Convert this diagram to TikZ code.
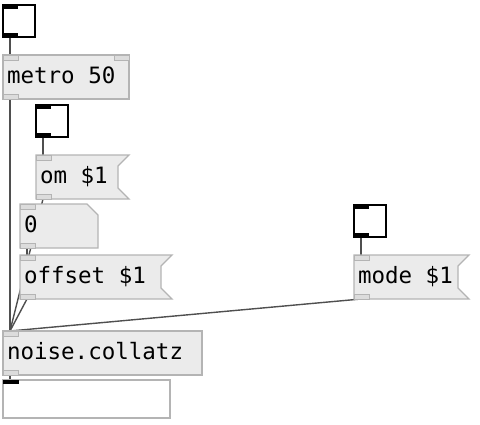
\documentclass[tikz,border=0pt]{standalone}
\usepackage{fontspec}
\newfontfamily\pdmono{DejaVu Sans Mono}
\usetikzlibrary{calc}
\definecolor{boxfill}{HTML}{EBEBEB}
\definecolor{boxline}{HTML}{B4B4B4}
\definecolor{nubfill}{HTML}{DCDCDC}
\definecolor{wire}{HTML}{4F4F4F}
\pgfdeclarelayer{wires}
\pgfdeclarelayer{back}
\pgfsetlayers{wires,back,main}
\begin{document}
\begin{tikzpicture}[x=1pt,y=1pt,inner sep=0pt,outer sep=0pt,
pdtext/.style={rectangle,anchor=north west,inner xsep=4pt,inner ysep=0pt,text height=28pt,text depth=16pt,font=\pdmono\fontsize{22.5pt}{27pt}\selectfont,minimum width=#1},
pdobj/.style={pdtext=#1,draw=boxline,fill=boxfill,line width=1.3pt},
pdmsg/.style={pdtext=#1},
outline/.style={draw=boxline,fill=boxfill,line width=1.3pt,line join=miter},
nub/.style={draw=boxline,fill=nubfill,line width=1pt},
blacknub/.style={fill=black},
toggle/.style={draw=black,fill=white,line width=1.5pt,anchor=north west,minimum size=32pt},
conn/.style={draw=wire,line width=1.4pt}]
\useasboundingbox (0,0) rectangle (480,-424);
% gui toggles
\node[toggle] (tgl1) at (3,-5) {};
\node[toggle] (tgl2) at (36,-105) {};
\node[toggle] (tgl3) at (354,-205) {};
% objects and messages
\node[pdobj=126pt] (metro) at (3,-55) {\makebox[118pt][l]{metro 50}};
\node[pdmsg=93pt] (om) at (36,-155) {\makebox[85pt][l]{om \$1}};
\node[pdmsg=78pt] (zero) at (20,-204) {\makebox[70pt][l]{0}};
\node[pdmsg=152pt] (offset) at (20,-255) {\makebox[144pt][l]{offset \$1}};
\node[pdmsg=115pt] (mode) at (354,-255) {\makebox[107pt][l]{mode \$1}};
\node[pdobj=199pt] (collatz) at (3,-331) {\makebox[191pt][l]{noise.collatz}};
\node[draw=boxline,fill=white,line width=1.3pt,anchor=north west,minimum width=167pt,minimum height=38pt] (out) at (3,-380) {};
\begin{pgfonlayer}{back}
% message box flags
\foreach \m in {om,offset,mode}
  \draw[outline] (\m.north west) -- (\m.north east) -- ++(-11,-11) -- ($(\m.south east)+(-11,11)$)
    -- (\m.south east) -- (\m.south west) -- cycle;
% atom box
\draw[outline] (zero.north west) -- ($(zero.north east)+(-11,0)$) -- ($(zero.north east)+(0,-11)$)
  -- (zero.south east) -- (zero.south west) -- cycle;
\end{pgfonlayer}
% inlets and outlets
\foreach \n in {metro,om,zero,offset,mode,collatz} {
  \draw[nub] (\n.north west) rectangle ++(15,-5);
  \draw[nub] (\n.south west) rectangle ++(15,5);
}
\draw[nub] (metro.north east) rectangle ++(-15,-5);
\foreach \t in {tgl1,tgl2,tgl3} {
  \fill[blacknub] (\t.north west) rectangle ++(15,-4);
  \fill[blacknub] (\t.south west) rectangle ++(15,4);
}
\fill[blacknub] (out.north west) rectangle ++(16,-4);
% connections
\begin{pgfonlayer}{wires}
\draw[conn] ($(tgl1.south west)+(7,0)$) -- ($(metro.north west)+(7,0)$);
\draw[conn] ($(metro.south west)+(7,0)$) -- ($(collatz.north west)+(7,0)$);
\draw[conn] ($(tgl2.south west)+(7,0)$) -- ($(om.north west)+(7,0)$);
\draw[conn] ($(om.south west)+(7,0)$) -- ($(collatz.north west)+(7,0)$);
\draw[conn] ($(zero.south west)+(7,0)$) -- ($(offset.north west)+(7,0)$);
\draw[conn] ($(offset.south west)+(7,0)$) -- ($(collatz.north west)+(7,0)$);
\draw[conn] ($(tgl3.south west)+(7,0)$) -- ($(mode.north west)+(7,0)$);
\draw[conn] ($(mode.south west)+(7,0)$) -- ($(collatz.north west)+(7,0)$);
\draw[conn] ($(collatz.south west)+(7,0)$) -- ($(out.north west)+(7,0)$);
\end{pgfonlayer}
\end{tikzpicture}
\end{document}
